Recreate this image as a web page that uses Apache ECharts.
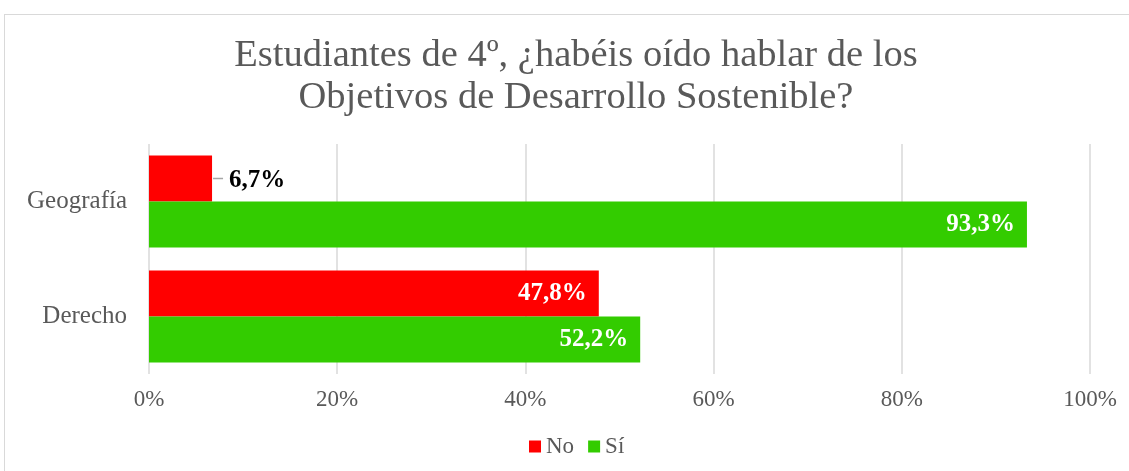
<!DOCTYPE html>
<html>
<head>
<meta charset="utf-8">
<script src="https://cdn.jsdelivr.net/npm/echarts@6/dist/echarts.min.js"></script>
<style>
  html, body { margin: 0; padding: 0; background: #fff; }
  #frame { position: absolute; left: 4px; top: 14px; width: 1140px; height: 470px; border: 1px solid #d9d9d9; }
  #chart { position: absolute; left: 0; top: 0; width: 1129px; height: 471px; }
</style>
</head>
<body>
<div id="frame"></div>
<div id="chart"></div>
<script>
var categories = ['Derecho', 'Geografía'];
var noValues = [47.8, 6.7];
var siValues = [52.2, 93.3];
var xTicks = [0, 20, 40, 60, 80, 100];

var serif = '"Liberation Serif", "DejaVu Serif", serif';
var chart = echarts.init(document.getElementById('chart'));

function fmt(v) {
  return v.toFixed(1).replace('.', ',') + '%';
}

var option = {
  title: {
    text: 'Estudiantes de 4º, ¿habéis oído hablar de los\nObjetivos de Desarrollo Sostenible?',
    left: 571,
    textAlign: 'center',
    top: 30,
    textStyle: { fontFamily: serif, fontSize: 38.5, fontWeight: 'normal', color: '#595959', lineHeight: 42 }
  },
  legend: {
    data: ['No', 'Sí'],
    top: 430,
    left: 524,
    itemWidth: 12,
    itemHeight: 12,
    itemGap: 14,
    icon: 'rect',
    textStyle: { fontFamily: serif, fontSize: 23, color: '#595959' }
  },
  grid: { left: 149, right: 39, top: 144, bottom: 97 },
  xAxis: {
    type: 'value',
    min: 0,
    max: 100,
    interval: 20,
    axisLine: { show: false },
    axisTick: { show: false },
    splitLine: { lineStyle: { color: '#d9d9d9', width: 1.5 } },
    axisLabel: {
      fontFamily: serif, fontSize: 23, color: '#595959', margin: 14,
      formatter: function (v) { return xTicks.indexOf(v) >= 0 ? v + '%' : ''; }
    }
  },
  yAxis: {
    type: 'category',
    data: categories,
    axisLine: { show: false },
    axisTick: { show: false },
    axisLabel: { fontFamily: serif, fontSize: 25, color: '#595959', margin: 22 }
  },
  series: [
    {
      name: 'No',
      type: 'bar',
      barGap: '0%',
      barCategoryGap: '20%',
      itemStyle: { color: '#ff0000' },
      data: noValues.map(function (v) {
        if (v < 20) {
          return {
            value: v,
            label: {
              position: 'right', distance: 1,
              formatter: function (p) { return '{ln| }{v|' + fmt(p.value) + '}'; },
              rich: {
                ln: { width: 10, height: 1.5, backgroundColor: '#a6a6a6', verticalAlign: 'middle' },
                v: { fontFamily: serif, fontSize: 25, fontWeight: 'bold', color: '#000', padding: [4, 0, 0, 6] }
              }
            }
          };
        }
        return v;
      }),
      label: {
        show: true, position: 'insideRight', distance: 12,
        fontFamily: serif, fontSize: 25, fontWeight: 'bold', color: '#fff',
        formatter: function (p) { return fmt(p.value); }
      }
    },
    {
      name: 'Sí',
      type: 'bar',
      data: siValues,
      barGap: '0%',
      barCategoryGap: '20%',
      itemStyle: { color: '#33cc00' },
      label: {
        show: true, position: 'insideRight', distance: 12,
        fontFamily: serif, fontSize: 25, fontWeight: 'bold', color: '#fff',
        formatter: function (p) { return fmt(p.value); }
      }
    }
  ]
};

chart.setOption(option);
</script>
</body>
</html>
